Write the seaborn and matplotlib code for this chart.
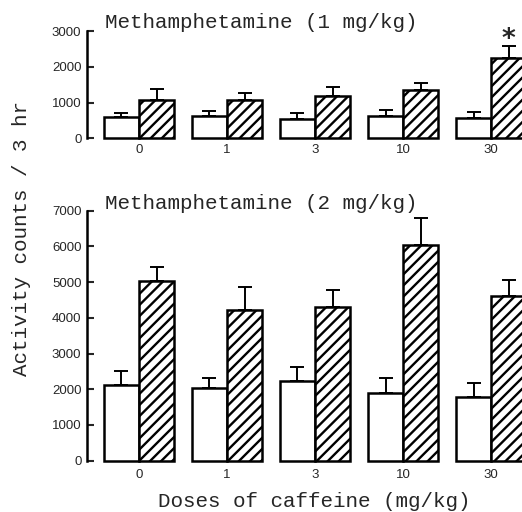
import numpy as np
import pandas as pd
import matplotlib
matplotlib.use("Agg")
import matplotlib.pyplot as plt
import seaborn as sns

# ── Data ───────────────────────────────────────────────────────
doses = ["0", "1", "3", "10", "30"]
groups = ["Caffeine", "Caffeine + MAP"]

map1_white = [583, 630, 528, 620, 556]
map1_white_sem = [130, 138, 190, 167, 184]
map1_hatch = [1083, 1083, 1176, 1343, 2240]
map1_hatch_sem = [287, 186, 259, 203, 340]

map2_white = [2120, 2028, 2241, 1888, 1793]
map2_white_sem = [401, 297, 375, 420, 375]
map2_hatch = [5042, 4221, 4297, 6042, 4613]
map2_hatch_sem = [375, 653, 485, 748, 449]

yticks_top = [0, 1000, 2000, 3000]
yticks_bot = [0, 1000, 2000, 3000, 4000, 5000, 6000, 7000]

MONO = "Liberation Mono"
SANS = "Liberation Sans"

sns.set_style("white")
plt.rcParams["hatch.linewidth"] = 1.7
plt.rcParams["hatch.color"] = "black"


def make_df(white, hatch):
    return pd.DataFrame({
        "dose": doses * 2,
        "counts": list(white) + list(hatch),
        "group": [groups[0]] * 5 + [groups[1]] * 5,
    })


def draw_panel(ax, white, white_sem, hatch, hatch_sem, yticks, xpad):
    df = make_df(white, hatch)
    sns.barplot(data=df, x="dose", y="counts", hue="group", order=doses,
                hue_order=groups, palette=["white", "white"], saturation=1,
                errorbar=None, width=0.8, legend=False, ax=ax)
    for cont, sems, hatch_pat in zip(ax.containers, [white_sem, hatch_sem], ["", "///"]):
        for bar, e in zip(cont, sems):
            bar.set_edgecolor("black")
            bar.set_linewidth(1.8)
            bar.set_hatch(hatch_pat)
            bar.set_clip_on(False)
            xc = bar.get_x() + bar.get_width() / 2
            ax.errorbar(xc, bar.get_height(), yerr=[[0], [e]], fmt="none",
                        ecolor="black", elinewidth=1.4, capsize=5, capthick=1.4,
                        zorder=3, clip_on=False)
    ax.set_xlim(-0.59, 4.35)
    ax.set_ylim(0, yticks[-1])
    ax.set_yticks(yticks)
    ax.set_yticklabels([str(t) for t in yticks], fontfamily=SANS, fontsize=9.5)
    ax.set_xticks(range(len(doses)))
    ax.set_xticklabels(doses, fontfamily=SANS, fontsize=9.5)
    ax.tick_params(axis="y", direction="in", length=5, width=1.5, pad=4, left=True)
    ax.tick_params(axis="x", length=0, pad=xpad)
    for s in ["top", "right", "bottom"]:
        ax.spines[s].set_visible(False)
    ax.spines["left"].set_linewidth(1.8)
    ax.spines["left"].set_color("black")
    ax.set_xlabel("")
    ax.set_ylabel("")


fig = plt.figure(figsize=(5.22, 5.12), dpi=100)
ax1 = fig.add_axes([87 / 522, 1 - 138.3 / 512, 1 - 87 / 522, 107.3 / 512])
ax2 = fig.add_axes([87 / 522, 1 - 460.7 / 512, 1 - 87 / 522, 250 / 512])

draw_panel(ax1, map1_white, map1_white_sem, map1_hatch, map1_hatch_sem, yticks_top, 4)
draw_panel(ax2, map2_white, map2_white_sem, map2_hatch, map2_hatch_sem, yticks_bot, 6)

# significance mark over caffeine 30 + MAP 1 mg/kg
star_bar = ax1.containers[1][4]
ax1.text(star_bar.get_x() + star_bar.get_width() / 2,
         map1_hatch[4] + map1_hatch_sem[4] - 40, "*", ha="center", va="baseline",
         fontsize=19, fontweight="bold", fontfamily="DejaVu Sans", clip_on=False)

fig.text(105 / 522, 1 - 28 / 512, "Methamphetamine (1 mg/kg)", fontfamily=MONO,
         fontsize=15, va="baseline", ha="left")
fig.text(105 / 522, 1 - 209 / 512, "Methamphetamine (2 mg/kg)", fontfamily=MONO,
         fontsize=15, va="baseline", ha="left")
fig.text(314.5 / 522, 0.009, "Doses of caffeine (mg/kg)", fontfamily=MONO,
         fontsize=15, va="baseline", ha="center")
fig.text(22 / 522, 1 - 238 / 512, "Activity counts / 3 hr", fontfamily=MONO,
         fontsize=15, rotation=90, va="center", ha="center")

fig.savefig("out.png", dpi=100)
plt.close(fig)
